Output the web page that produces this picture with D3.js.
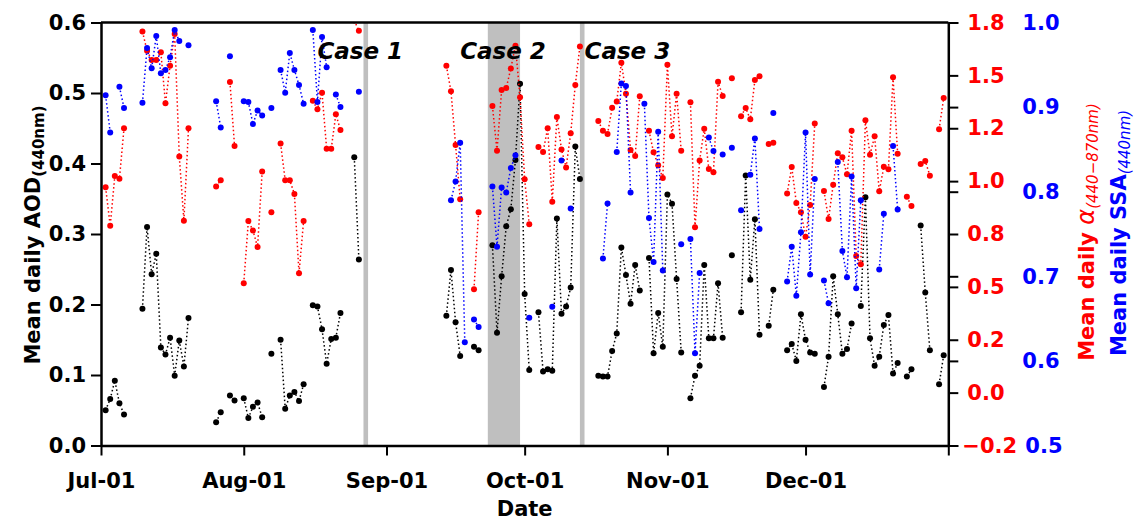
<!DOCTYPE html>
<html>
<head>
<meta charset="utf-8">
<script src="https://cdn.jsdelivr.net/npm/d3@7"></script>
<style>
  html, body { margin: 0; padding: 0; background: #fff; overflow: hidden; }
  svg { display: block; font-family: 'DejaVu Sans', sans-serif; }
  .axis line { stroke: #000; stroke-width: 2; }
  .axis path { stroke: #000; stroke-width: 2.5; }
</style>
</head>
<body>
<div id="chart"></div>
<script>
// mean daily AOD (440nm), [month-day, value]
const aodData = [
  ['07-02', 0.050], ['07-03', 0.066], ['07-04', 0.092], ['07-05', 0.060], ['07-06', 0.044],
  ['07-10', 0.194], ['07-11', 0.310], ['07-12', 0.243], ['07-13', 0.272], ['07-14', 0.139],
  ['07-15', 0.129], ['07-16', 0.153], ['07-17', 0.099], ['07-18', 0.149], ['07-19', 0.112],
  ['07-20', 0.181], ['07-26', 0.033], ['07-27', 0.047], ['07-29', 0.071], ['07-30', 0.064],
  ['08-01', 0.067], ['08-02', 0.039], ['08-03', 0.055], ['08-04', 0.061], ['08-05', 0.040],
  ['08-07', 0.130], ['08-09', 0.150], ['08-10', 0.052], ['08-11', 0.071], ['08-12', 0.076],
  ['08-13', 0.063], ['08-14', 0.087], ['08-16', 0.199], ['08-17', 0.197], ['08-18', 0.165],
  ['08-19', 0.116], ['08-20', 0.151], ['08-21', 0.153], ['08-22', 0.188], ['08-25', 0.409],
  ['08-26', 0.264],
  ['09-14', 0.184], ['09-15', 0.249], ['09-16', 0.175], ['09-17', 0.127], ['09-20', 0.140],
  ['09-21', 0.135], ['09-24', 0.284], ['09-25', 0.160], ['09-26', 0.240], ['09-27', 0.311],
  ['09-28', 0.335], ['09-29', 0.405], ['09-30', 0.513], ['10-01', 0.215], ['10-02', 0.107],
  ['10-04', 0.189], ['10-05', 0.105], ['10-06', 0.108], ['10-07', 0.106], ['10-08', 0.322],
  ['10-09', 0.187], ['10-10', 0.197], ['10-11', 0.224], ['10-12', 0.424], ['10-13', 0.378],
  ['10-17', 0.099], ['10-18', 0.098], ['10-19', 0.098], ['10-20', 0.134], ['10-21', 0.159],
  ['10-22', 0.281], ['10-23', 0.242], ['10-24', 0.201], ['10-25', 0.256], ['10-26', 0.220],
  ['10-28', 0.266], ['10-29', 0.131], ['10-30', 0.188], ['10-31', 0.140], ['11-01', 0.356],
  ['11-02', 0.343], ['11-03', 0.236], ['11-04', 0.132], ['11-06', 0.067], ['11-07', 0.099],
  ['11-08', 0.113], ['11-09', 0.256], ['11-10', 0.152], ['11-11', 0.152], ['11-12', 0.230],
  ['11-13', 0.153], ['11-15', 0.270], ['11-17', 0.189], ['11-18', 0.383], ['11-19', 0.235],
  ['11-20', 0.321], ['11-21', 0.157], ['11-23', 0.170], ['11-24', 0.221], ['11-27', 0.135],
  ['11-28', 0.144], ['11-29', 0.120], ['11-30', 0.186], ['12-01', 0.150], ['12-02', 0.132],
  ['12-03', 0.130], ['12-05', 0.083], ['12-06', 0.126], ['12-07', 0.240], ['12-08', 0.186],
  ['12-09', 0.130], ['12-10', 0.137], ['12-11', 0.173], ['12-13', 0.198], ['12-14', 0.352],
  ['12-15', 0.152], ['12-16', 0.113], ['12-17', 0.126], ['12-18', 0.171], ['12-19', 0.185],
  ['12-20', 0.102], ['12-21', 0.117], ['12-23', 0.098], ['12-24', 0.108], ['12-26', 0.312],
  ['12-27', 0.217], ['12-28', 0.135], ['12-30', 0.087], ['12-31', 0.128]
];

// mean daily Angstrom exponent (440-870nm)
const alphaData = [
  ['07-02', 1.021], ['07-03', 0.839], ['07-04', 1.074], ['07-05', 1.061], ['07-06', 1.300],
  ['07-10', 1.757], ['07-11', 1.667], ['07-12', 1.623], ['07-13', 1.623], ['07-14', 1.659],
  ['07-15', 1.418], ['07-16', 1.596], ['07-17', 1.746], ['07-18', 1.167], ['07-19', 0.863],
  ['07-20', 1.300], ['07-26', 1.024], ['07-27', 1.054], ['07-29', 1.519], ['07-30', 1.216],
  ['08-01', 0.567], ['08-02', 0.861], ['08-03', 0.816], ['08-04', 0.739], ['08-05', 1.096],
  ['08-07', 0.903], ['08-09', 1.228], ['08-10', 1.054], ['08-11', 1.054], ['08-12', 0.989],
  ['08-13', 0.614], ['08-14', 0.861], ['08-16', 1.430], ['08-17', 1.390], ['08-18', 1.468],
  ['08-19', 1.203], ['08-20', 1.203], ['08-21', 1.366], ['08-22', 1.292], ['08-25', 1.810],
  ['08-26', 1.761],
  ['09-14', 1.596], ['09-15', 1.475], ['09-16', 1.221], ['09-17', 0.964], ['09-20', 0.539],
  ['09-21', 0.903], ['09-24', 1.405], ['09-25', 1.194], ['09-26', 1.481], ['09-27', 1.490],
  ['09-28', 1.583], ['09-29', 1.690], ['09-30', 1.446], ['10-01', 1.059], ['10-02', 0.846],
  ['10-04', 1.211], ['10-05', 1.188], ['10-06', 1.300], ['10-07', 0.953], ['10-08', 1.353],
  ['10-09', 1.200], ['10-10', 1.115], ['10-11', 1.276], ['10-12', 1.505], ['10-13', 1.687],
  ['10-17', 1.334], ['10-18', 1.288], ['10-19', 1.273], ['10-20', 1.397], ['10-21', 1.426],
  ['10-22', 1.610], ['10-23', 1.463], ['10-24', 1.197], ['10-25', 1.169], ['10-26', 1.451],
  ['10-28', 1.288], ['10-29', 1.186], ['10-30', 1.125], ['10-31', 1.065], ['11-01', 1.600],
  ['11-02', 1.262], ['11-03', 1.463], ['11-04', 1.194], ['11-06', 1.423], ['11-07', 0.832],
  ['11-08', 1.148], ['11-09', 1.298], ['11-10', 1.107], ['11-11', 1.092], ['11-12', 1.520],
  ['11-13', 1.452], ['11-15', 1.536], ['11-17', 1.357], ['11-18', 1.396], ['11-19', 1.342],
  ['11-20', 1.528], ['11-21', 1.546], ['11-23', 1.226], ['11-24', 1.232], ['11-27', 0.991],
  ['11-28', 1.117], ['11-29', 0.947], ['11-30', 0.903], ['12-01', 0.787], ['12-02', 0.937],
  ['12-03', 1.322], ['12-05', 1.003], ['12-06', 0.871], ['12-07', 1.033], ['12-08', 1.182],
  ['12-09', 1.163], ['12-10', 1.082], ['12-11', 1.288], ['12-12', 0.696], ['12-13', 0.657],
  ['12-14', 1.338], ['12-15', 1.175], ['12-16', 1.262], ['12-17', 1.002], ['12-18', 1.118],
  ['12-19', 1.106], ['12-20', 1.541], ['12-21', 1.180], ['12-23', 0.976], ['12-24', 0.932],
  ['12-26', 1.131], ['12-27', 1.145], ['12-28', 1.076], ['12-30', 1.295], ['12-31', 1.443]
];

// mean daily SSA (440nm)
const ssaData = [
  ['07-02', 0.914], ['07-03', 0.870], ['07-05', 0.924], ['07-06', 0.899],
  ['07-10', 0.905], ['07-11', 0.970], ['07-12', 0.946], ['07-13', 0.984], ['07-14', 0.940],
  ['07-15', 0.944], ['07-16', 0.959], ['07-17', 0.991], ['07-18', 0.978], ['07-20', 0.973],
  ['07-26', 0.907], ['07-27', 0.876], ['07-29', 0.960],
  ['08-01', 0.907], ['08-02', 0.906], ['08-03', 0.880], ['08-04', 0.896], ['08-05', 0.890],
  ['08-07', 0.899], ['08-09', 0.944], ['08-10', 0.917], ['08-11', 0.964], ['08-12', 0.944],
  ['08-13', 0.926], ['08-14', 0.904], ['08-16', 0.991], ['08-17', 0.906], ['08-18', 0.983],
  ['08-19', 0.947], ['08-21', 0.915], ['08-22', 0.900], ['08-26', 0.918],
  ['09-15', 0.790], ['09-16', 0.812], ['09-17', 0.858], ['09-18', 0.622], ['09-20', 0.649],
  ['09-21', 0.640], ['09-24', 0.806], ['09-25', 0.735], ['09-26', 0.805], ['09-27', 0.799],
  ['09-28', 0.828], ['09-29', 0.843], ['10-02', 0.651], ['10-07', 0.664], ['10-09', 0.837],
  ['10-11', 0.780],
  ['10-18', 0.721], ['10-19', 0.786], ['10-21', 0.847], ['10-22', 0.928], ['10-23', 0.925],
  ['10-24', 0.799], ['10-27', 0.904], ['10-28', 0.769], ['10-29', 0.717], ['10-30', 0.871],
  ['10-31', 0.707], ['11-04', 0.738], ['11-06', 0.744], ['11-07', 0.609], ['11-08', 0.704],
  ['11-10', 0.864], ['11-11', 0.848], ['11-13', 0.844], ['11-15', 0.852], ['11-17', 0.778],
  ['11-19', 0.820], ['11-20', 0.863], ['11-21', 0.756], ['11-24', 0.893], ['11-27', 0.694],
  ['11-28', 0.735], ['11-29', 0.677], ['11-30', 0.752], ['12-01', 0.870], ['12-02', 0.702],
  ['12-03', 0.815], ['12-05', 0.695], ['12-06', 0.668], ['12-08', 0.835], ['12-09', 0.730],
  ['12-10', 0.699], ['12-11', 0.818], ['12-12', 0.686], ['12-13', 0.790], ['12-17', 0.708],
  ['12-18', 0.774], ['12-20', 0.854], ['12-21', 0.779]
];

// shaded case periods and their labels
const caseBands = [['08-27', '08-28'], ['09-23', '09-30'], ['10-13', '10-14']];
const caseLabels = ['Case 1', 'Case 2', 'Case 3'];
const caseLabelDates = ['08-17', '09-17', '10-14'];

const aodTicks = [0, 0.1, 0.2, 0.3, 0.4, 0.5, 0.6];
const ssaTicks = [0.5, 0.6, 0.7, 0.8, 0.9, 1.0];
const alphaTickLabels = ['\u22120.2', '0.0', '0.2', '0.5', '0.8', '1.0', '1.2', '1.5', '1.8'];

const width = 1137;
const height = 519;
const margin = { top: 22.5, right: width - 948.3, bottom: height - 445.5, left: 101 };
const innerWidth = width - margin.left - margin.right;
const innerHeight = height - margin.top - margin.bottom;

const parse = d3.timeParse('%Y-%m-%d');
const toDate = s => parse('2019-' + s);
const toPoints = arr => arr.map(([d, v]) => ({ date: toDate(d), value: v }));

// split a series where a day is missing so the dotted line breaks
function segments(points) {
  const out = [];
  let cur = [];
  points.forEach((p, i) => {
    if (i > 0 && d3.timeDay.count(points[i - 1].date, p.date) > 1) {
      out.push(cur);
      cur = [];
    }
    cur.push(p);
  });
  if (cur.length) out.push(cur);
  return out;
}

const xScale = d3.scaleTime()
  .domain([toDate('07-01'), parse('2020-01-01')])
  .range([0, innerWidth]);

const yAod = d3.scaleLinear().domain([0, 0.6]).range([innerHeight, 0]);
const yAlpha = d3.scaleLinear().domain([-0.2, 1.8]).range([innerHeight, 0]);
const ySsa = d3.scaleLinear().domain([0.5, 1.0]).range([innerHeight, 0]);

const svg = d3.select('#chart')
  .append('svg')
    .attr('width', width)
    .attr('height', height);

svg.append('rect').attr('width', width).attr('height', height).attr('fill', '#fff');

svg.append('defs').append('clipPath')
    .attr('id', 'plot-clip')
  .append('rect')
    .attr('width', innerWidth)
    .attr('height', innerHeight);

const inner = svg.append('g')
  .attr('transform', `translate(${margin.left}, ${margin.top})`);

// shaded periods
inner.selectAll('.band')
    .data(caseBands)
  .enter().append('rect')
    .attr('class', 'band')
    .attr('x', d => xScale(toDate(d[0])))
    .attr('width', d => xScale(toDate(d[1])) - xScale(toDate(d[0])))
    .attr('y', 0)
    .attr('height', innerHeight)
    .attr('fill', '#bfbfbf');

const plot = inner.append('g').attr('clip-path', 'url(#plot-clip)');

function drawSeries(data, yScale, color) {
  const pts = toPoints(data);
  const line = d3.line()
    .x(d => xScale(d.date))
    .y(d => yScale(d.value));
  const g = plot.append('g');
  g.selectAll('path')
      .data(segments(pts).filter(s => s.length > 1))
    .enter().append('path')
      .attr('d', line)
      .attr('fill', 'none')
      .attr('stroke', color)
      .attr('stroke-width', 1.5)
      .attr('stroke-dasharray', '1.5,2.5');
  g.selectAll('circle')
      .data(pts)
    .enter().append('circle')
      .attr('r', 3)
      .attr('cx', d => xScale(d.date))
      .attr('cy', d => yScale(d.value))
      .attr('fill', color);
}

drawSeries(aodData, yAod, '#000');
drawSeries(alphaData, yAlpha, '#ff0000');
drawSeries(ssaData, ySsa, '#0000ff');

// case labels
inner.selectAll('.case-label')
    .data(caseLabels)
  .enter().append('text')
    .attr('class', 'case-label')
    .attr('x', (d, i) => xScale(toDate(caseLabelDates[i])))
    .attr('y', 36)
    .attr('font-size', 23)
    .attr('font-weight', 'bold')
    .attr('font-style', 'italic')
    .text(d => d);

// top spine
inner.append('line')
  .attr('x1', 0).attr('x2', innerWidth)
  .attr('y1', 0).attr('y2', 0)
  .attr('stroke', '#000').attr('stroke-width', 2.5);

function styleAxis(g) {
  g.attr('font-size', 21)
    .attr('font-family', "'DejaVu Sans', sans-serif")
    .attr('font-weight', 'bold');
}

// x axis
const monthTicks = d3.timeMonth.range(toDate('07-01'), parse('2020-01-02'));
const xAxis = d3.axisBottom(xScale)
  .tickValues(monthTicks)
  .tickSize(10)
  .tickPadding(18)
  .tickSizeOuter(0)
  .tickFormat(d => d.getFullYear() === 2019 ? d3.timeFormat('%b-%d')(d) : '');

inner.append('g')
  .attr('class', 'axis axis-x')
  .attr('transform', `translate(0, ${innerHeight})`)
  .call(xAxis)
  .call(styleAxis);

// left y axis
inner.append('g')
  .attr('class', 'axis axis-y')
  .call(d3.axisLeft(yAod).tickValues(aodTicks).tickFormat(d3.format('.1f'))
    .tickSize(10).tickPadding(5).tickSizeOuter(0))
  .call(styleAxis);

// right axis: alpha
const alphaTicks = alphaTickLabels.map((_, i) => -0.2 + i * 0.25);
const alphaAxis = inner.append('g')
  .attr('class', 'axis axis-alpha')
  .attr('transform', `translate(${innerWidth}, 0)`)
  .call(d3.axisRight(yAlpha).tickValues(alphaTicks)
    .tickFormat((d, i) => alphaTickLabels[i])
    .tickSize(10).tickPadding(9).tickSizeOuter(0))
  .call(styleAxis);
alphaAxis.selectAll('text')
  .attr('fill', '#ff0000')
  .filter((d, i) => i === 0)
  .attr('x', 14);

// right axis: ssa (shares the same spine)
const ssaAxis = inner.append('g')
  .attr('class', 'axis axis-ssa')
  .attr('transform', `translate(${innerWidth}, 0)`)
  .call(d3.axisRight(ySsa).tickValues(ssaTicks).tickFormat(d3.format('.1f'))
    .tickSize(10).tickPadding(64).tickSizeOuter(0))
  .call(styleAxis);
ssaAxis.select('.domain').remove();
ssaAxis.selectAll('text').attr('fill', '#0000ff')
  .filter(d => d === 0.5)
  .attr('x', 77);

// axis titles
svg.append('text')
  .attr('x', margin.left + innerWidth / 2)
  .attr('y', 516)
  .attr('text-anchor', 'middle')
  .attr('font-size', 21)
  .attr('font-weight', 'bold')
  .text('Date');

const leftTitle = svg.append('text')
  .attr('transform', 'translate(40, 235) rotate(-90)')
  .attr('text-anchor', 'middle')
  .attr('font-size', 21)
  .attr('font-weight', 'bold');
leftTitle.append('tspan').text('Mean daily AOD');
leftTitle.append('tspan').attr('font-size', 15).attr('dy', 4).text('(440nm)');

const alphaTitle = svg.append('text')
  .attr('transform', 'translate(1094, 232) rotate(-90)')
  .attr('text-anchor', 'middle')
  .attr('font-size', 21)
  .attr('fill', '#ff0000');
alphaTitle.append('tspan').attr('font-weight', 'bold').text('Mean daily ');
alphaTitle.append('tspan').attr('font-style', 'italic').attr('font-size', 24).text('\u03b1');
alphaTitle.append('tspan').attr('font-style', 'italic').attr('font-size', 15).attr('dy', 4)
  .text('(440\u2212870nm)');

const ssaTitle = svg.append('text')
  .attr('transform', 'translate(1126, 233) rotate(-90)')
  .attr('text-anchor', 'middle')
  .attr('font-size', 21)
  .attr('fill', '#0000ff');
ssaTitle.append('tspan').attr('font-weight', 'bold').text('Mean daily SSA');
ssaTitle.append('tspan').attr('font-style', 'italic').attr('font-size', 15).attr('dy', 4)
  .text('(440nm)');
</script>
</body>
</html>
